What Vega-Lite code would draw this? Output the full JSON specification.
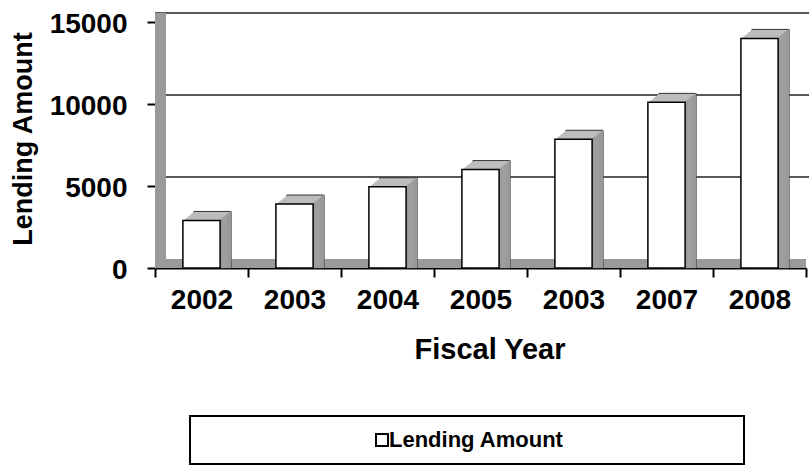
{
  "$schema": "https://vega.github.io/schema/vega-lite/v6.json",
  "width": 651,
  "height": 246,
  "autosize": {"type": "none"},
  "padding": {"left": 155, "top": 22, "right": 3, "bottom": 198},
  "background": "white",
  "config": {
    "view": {"stroke": null},
    "font": "Liberation Sans, Arial, sans-serif",
    "legend": {"strokeWidth": 2}
  },
  "data": {
    "values": [
      {"year": "2002", "amount": 2900, "series": "Lending Amount"},
      {"year": "2003", "amount": 3900, "series": "Lending Amount"},
      {"year": "2004", "amount": 4950, "series": "Lending Amount"},
      {"year": "2005", "amount": 6000, "series": "Lending Amount"},
      {"year": "2003 ", "amount": 7850, "series": "Lending Amount"},
      {"year": "2007", "amount": 10100, "series": "Lending Amount"},
      {"year": "2008", "amount": 14000, "series": "Lending Amount"}
    ]
  },
  "layer": [
    {
      "data": {"values": [{}]},
      "mark": {"type": "rule", "color": "#9a9a9a", "strokeWidth": 9, "strokeCap": "butt", "yOffset": -4.5, "x2Offset": 3},
      "encoding": {"y": {"datum": 0, "type": "quantitative"}}
    },
    {
      "data": {"values": [{}]},
      "mark": {"type": "rule", "color": "#222", "strokeWidth": 1.5, "yOffset": -9, "xOffset": 11, "x2Offset": 11},
      "encoding": {"y": {"datum": 5000, "type": "quantitative"}}
    },
    {
      "data": {"values": [{}]},
      "mark": {"type": "rule", "color": "#222", "strokeWidth": 1.5, "yOffset": -9, "xOffset": 11, "x2Offset": 11},
      "encoding": {"y": {"datum": 10000, "type": "quantitative"}}
    },
    {
      "data": {"values": [{}]},
      "mark": {"type": "rule", "color": "#222", "strokeWidth": 1.5, "yOffset": -9, "xOffset": 11, "x2Offset": 11},
      "encoding": {"y": {"datum": 15000, "type": "quantitative"}}
    },
    {
      "data": {"values": [{}]},
      "mark": {"type": "rule", "color": "#9a9a9a", "strokeWidth": 11, "strokeCap": "butt", "xOffset": 5.5, "y2Offset": -9},
      "encoding": {
        "x": {"datum": "2002", "type": "nominal", "bandPosition": 0},
        "y": {"datum": 0, "type": "quantitative"},
        "y2": {"datum": 15000}
      }
    },
    {
      "encoding": {
        "x": {
          "field": "year", "type": "nominal", "sort": null,
          "scale": {"paddingInner": 0, "paddingOuter": 0},
          "axis": {
            "title": "Fiscal Year", "tickBand": "extent", "labelExpr": "trim(datum.label)", "labelAngle": 0,
            "labelAlign": "center",
            "labelFontSize": 28, "labelFontWeight": "bold", "labelColor": "black", "labelPadding": 23,
            "tickSize": 9, "tickColor": "black", "tickWidth": 2, "domainColor": "black", "domainWidth": 2,
            "titleFontSize": 29, "titleFontWeight": "bold", "titleColor": "black",
            "titleX": 334.5, "titleY": 67, "titleBaseline": "top", "titleAlign": "center", "grid": false
          }
        },
        "y": {
          "field": "amount", "type": "quantitative", "stack": null,
          "scale": {"domain": [0, 15000], "nice": false},
          "axis": {
            "title": "Lending Amount", "values": [0, 5000, 10000, 15000], "format": "d", "grid": false,
            "labelFontSize": 28, "labelFontWeight": "bold", "labelColor": "black", "labelPadding": 20, "labelOffset": 2,
            "tickSize": 8, "tickColor": "black", "tickWidth": 2, "domainColor": "#666", "domainWidth": 1,
            "titleFontSize": 27, "titleFontWeight": "bold", "titleColor": "black",
            "titleX": -118, "titleY": 116.5, "titleAngle": 270, "titleBaseline": "bottom", "titleAlign": "center"
          }
        }
      },
      "layer": [
        {"mark": {"type": "bar", "width": {"band": 0.4}, "fill": "#bdbdbd", "stroke": "#333", "strokeWidth": 1, "xOffset": 11, "yOffset": -9, "y2Offset": -9}},
        {"mark": {"type": "bar", "width": {"band": 0.4}, "fill": "#bdbdbd", "xOffset": 9.9, "yOffset": -8.1, "y2Offset": -8.1}},
        {"mark": {"type": "bar", "width": {"band": 0.4}, "fill": "#bdbdbd", "xOffset": 8.8, "yOffset": -7.2, "y2Offset": -7.2}},
        {"mark": {"type": "bar", "width": {"band": 0.4}, "fill": "#bdbdbd", "xOffset": 7.7, "yOffset": -6.3, "y2Offset": -6.3}},
        {"mark": {"type": "bar", "width": {"band": 0.4}, "fill": "#bdbdbd", "xOffset": 6.6, "yOffset": -5.4, "y2Offset": -5.4}},
        {"mark": {"type": "bar", "width": {"band": 0.4}, "fill": "#bdbdbd", "xOffset": 5.5, "yOffset": -4.5, "y2Offset": -4.5}},
        {"mark": {"type": "bar", "width": {"band": 0.4}, "fill": "#bdbdbd", "xOffset": 4.4, "yOffset": -3.6, "y2Offset": -3.6}},
        {"mark": {"type": "bar", "width": {"band": 0.4}, "fill": "#bdbdbd", "xOffset": 3.3, "yOffset": -2.7, "y2Offset": -2.7}},
        {"mark": {"type": "bar", "width": {"band": 0.4}, "fill": "#bdbdbd", "xOffset": 2.2, "yOffset": -1.8, "y2Offset": -1.8}},
        {"mark": {"type": "bar", "width": {"band": 0.4}, "fill": "#bdbdbd", "xOffset": 1.1, "yOffset": -0.9, "y2Offset": -0.9}},
        {"mark": {"type": "bar", "width": 1.3, "fill": "#999999", "xOffset": 19.15, "yOffset": -0.9, "y2Offset": -0.9}},
        {"mark": {"type": "bar", "width": 1.3, "fill": "#999999", "xOffset": 20.25, "yOffset": -1.8, "y2Offset": -1.8}},
        {"mark": {"type": "bar", "width": 1.3, "fill": "#999999", "xOffset": 21.35, "yOffset": -2.7, "y2Offset": -2.7}},
        {"mark": {"type": "bar", "width": 1.3, "fill": "#999999", "xOffset": 22.45, "yOffset": -3.6, "y2Offset": -3.6}},
        {"mark": {"type": "bar", "width": 1.3, "fill": "#999999", "xOffset": 23.55, "yOffset": -4.5, "y2Offset": -4.5}},
        {"mark": {"type": "bar", "width": 1.3, "fill": "#999999", "xOffset": 24.65, "yOffset": -5.4, "y2Offset": -5.4}},
        {"mark": {"type": "bar", "width": 1.3, "fill": "#999999", "xOffset": 25.75, "yOffset": -6.3, "y2Offset": -6.3}},
        {"mark": {"type": "bar", "width": 1.3, "fill": "#999999", "xOffset": 26.85, "yOffset": -7.2, "y2Offset": -7.2}},
        {"mark": {"type": "bar", "width": 1.3, "fill": "#999999", "xOffset": 27.95, "yOffset": -8.1, "y2Offset": -8.1}},
        {"mark": {"type": "bar", "width": 1.2, "fill": "#999999", "xOffset": 29.05, "yOffset": -9, "y2Offset": -9}},
        {
          "mark": {"type": "bar", "width": {"band": 0.4}, "stroke": "black", "strokeWidth": 1.5},
          "encoding": {
            "fill": {
              "field": "series", "type": "nominal",
              "scale": {"range": ["white"]},
              "legend": {
                "title": null, "orient": "none", "legendX": 35, "legendY": 394, "padding": 13,
                "strokeColor": "black",
                "labelFontSize": 22, "labelFontWeight": "bold", "labelColor": "black", "labelLimit": 400,
                "symbolType": "M-1,-1H1V1H-1Z M57.5,0", "symbolSize": 144,
                "symbolStrokeWidth": 2, "symbolStrokeColor": "black", "symbolFillColor": "white",
                "symbolOffset": 168, "labelOffset": -4
              }
            }
          }
        }
      ]
    }
  ]
}
